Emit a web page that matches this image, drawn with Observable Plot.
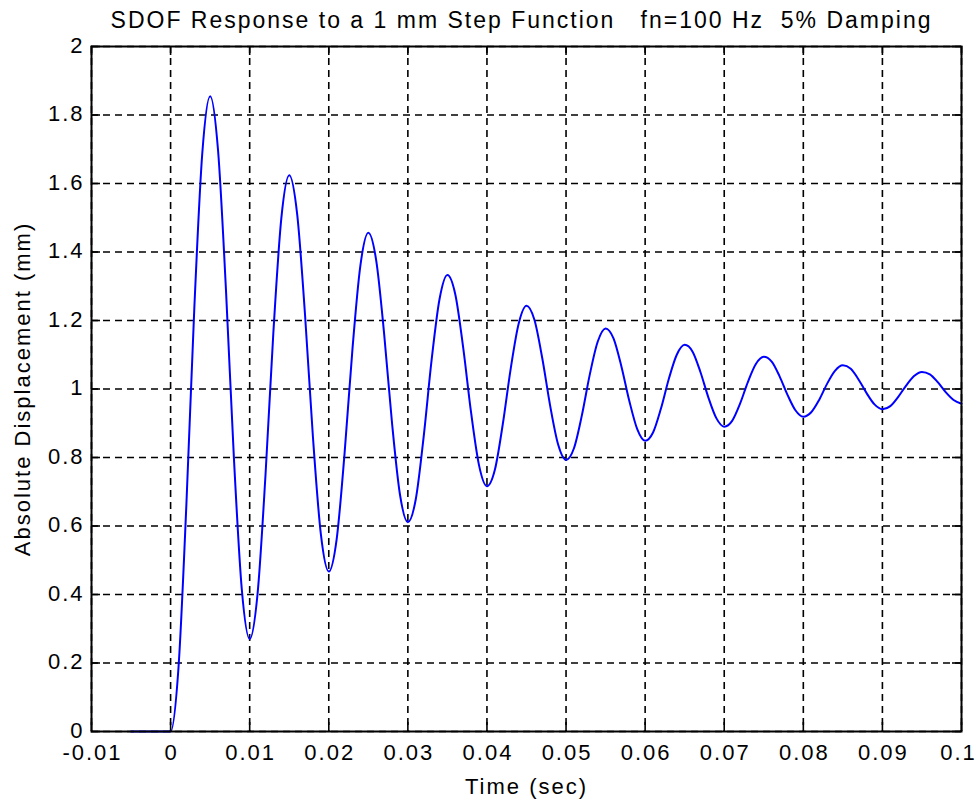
<!DOCTYPE html>
<html><head><meta charset="utf-8">
<script src="https://cdn.jsdelivr.net/npm/d3@7"></script>
<script src="https://cdn.jsdelivr.net/npm/@observablehq/plot@0.6"></script>
<style>
body{margin:0;background:#fff;}
#chart svg text{letter-spacing:2px;white-space:pre;}
</style></head><body><div id="chart"></div>
<script>
const timeSec = [-0.005,
  0, 0.001, 0.002, 0.003, 0.004, 0.005, 0.006, 0.007, 0.008, 0.009,
  0.010, 0.011, 0.012, 0.013, 0.014, 0.015, 0.016, 0.017, 0.018, 0.019,
  0.020, 0.021, 0.022, 0.023, 0.024, 0.025, 0.026, 0.027, 0.028, 0.029,
  0.030, 0.031, 0.032, 0.033, 0.034, 0.035, 0.036, 0.037, 0.038, 0.039,
  0.040, 0.041, 0.042, 0.043, 0.044, 0.045, 0.046, 0.047, 0.048, 0.049,
  0.050, 0.051, 0.052, 0.053, 0.054, 0.055, 0.056, 0.057, 0.058, 0.059,
  0.060, 0.061, 0.062, 0.063, 0.064, 0.065, 0.066, 0.067, 0.068, 0.069,
  0.070, 0.071, 0.072, 0.073, 0.074, 0.075, 0.076, 0.077, 0.078, 0.079,
  0.080, 0.081, 0.082, 0.083, 0.084, 0.085, 0.086, 0.087, 0.088, 0.089,
  0.090, 0.091, 0.092, 0.093, 0.094, 0.095, 0.096, 0.097, 0.098, 0.099,
  0.100];
const dispMm = [0,
  0, 0.187, 0.664, 1.236, 1.686, 1.855, 1.697, 1.290, 0.801, 0.416,
  0.270, 0.403, 0.749, 1.167, 1.498, 1.624, 1.511, 1.216, 0.859, 0.576,
  0.467, 0.562, 0.813, 1.118, 1.361, 1.456, 1.375, 1.161, 0.900, 0.692,
  0.611, 0.678, 0.861, 1.084, 1.262, 1.333, 1.276, 1.120, 0.930, 0.777,
  0.716, 0.764, 0.897, 1.059, 1.190, 1.243, 1.202, 1.089, 0.950, 0.838,
  0.793, 0.827, 0.923, 1.042, 1.138, 1.177, 1.148, 1.066, 0.965, 0.883,
  0.849, 0.873, 0.943, 1.030, 1.100, 1.129, 1.109, 1.049, 0.975, 0.915,
  0.890, 0.907, 0.957, 1.021, 1.073, 1.094, 1.080, 1.037, 0.983, 0.938,
  0.919, 0.932, 0.968, 1.015, 1.053, 1.069, 1.059, 1.027, 0.988, 0.955,
  0.941, 0.950, 0.977, 1.010, 1.038, 1.050, 1.043, 1.020, 0.991, 0.968,
  0.957];
const xTicks = [-0.01, 0, 0.01, 0.02, 0.03, 0.04, 0.05, 0.06, 0.07, 0.08, 0.09, 0.1];
const xTickLabels = ["-0.01", "0", "0.01", "0.02", "0.03", "0.04", "0.05", "0.06", "0.07", "0.08", "0.09", "0.1"];
const yTicks = [0, 0.2, 0.4, 0.6, 0.8, 1, 1.2, 1.4, 1.6, 1.8, 2];
const yTickLabels = ["0", "0.2", "0.4", "0.6", "0.8", "1", "1.2", "1.4", "1.6", "1.8", "2"];
const titleText = "SDOF Response to a 1 mm Step Function   fn=100 Hz  5% Damping";
const xLabel = "Time (sec)";
const yLabel = "Absolute Displacement (mm)";

const data = timeSec.map((t, i) => ({t, d: dispMm[i]}));
const W = 976, H = 803, mL = 91, mR = 15, mT = 46, mB = 72;
const fw = W - mL - mR, fh = H - mT - mB;
const tickLen = 9;
const ink = "#000";
const xLab = d => xTickLabels[xTicks.indexOf(d)];
const lastX = xTicks[xTicks.length - 1];

const plot = Plot.plot({
  width: W, height: H,
  marginLeft: mL, marginRight: mR, marginTop: mT, marginBottom: mB,
  style: {fontFamily: "'Liberation Sans', Arial, Helvetica, sans-serif", fontSize: "22px", color: ink, background: "#fff", overflow: "visible"},
  x: {domain: [-0.01, 0.1], axis: null},
  y: {domain: [0, 2], axis: null},
  marks: [
    Plot.ruleX(xTicks, {x: d => d, stroke: ink, strokeWidth: 1.6, strokeDasharray: "7,5"}),
    Plot.ruleY(yTicks, {y: d => d, stroke: ink, strokeWidth: 1.6, strokeDasharray: "7,5"}),
    Plot.line(data, {x: "t", y: "d", stroke: "#0000ff", strokeWidth: 2, curve: "monotone-x"}),
    Plot.tickX(xTicks, {x: d => d, insetTop: fh - tickLen, stroke: ink, strokeWidth: 1.6}),
    Plot.tickX(xTicks, {x: d => d, insetBottom: fh - tickLen, stroke: ink, strokeWidth: 1.6}),
    Plot.tickY(yTicks, {y: d => d, insetLeft: fw - tickLen, stroke: ink, strokeWidth: 1.6}),
    Plot.tickY(yTicks, {y: d => d, insetRight: fw - tickLen, stroke: ink, strokeWidth: 1.6}),
    Plot.frame({stroke: ink, strokeWidth: 2}),
    Plot.text(xTicks.filter(d => d !== lastX), {x: d => d, text: xLab, frameAnchor: "bottom", dy: 13, dx: 1, lineAnchor: "top", fontSize: 22, fill: ink}),
    Plot.text(xTicks.filter(d => d === lastX), {x: d => d, text: xLab, frameAnchor: "bottom", dy: 13, dx: -3, lineAnchor: "top", fontSize: 22, fill: ink}),
    Plot.text(yTicks, {y: d => d, text: d => yTickLabels[yTicks.indexOf(d)], frameAnchor: "left", dx: -7, dy: -1, textAnchor: "end", lineAnchor: "middle", fontSize: 22, fill: ink}),
    Plot.text([xLabel], {text: d => d, frameAnchor: "bottom", dy: 62, lineAnchor: "bottom", fontSize: 22, fill: ink}),
    Plot.text([yLabel], {text: d => d, frameAnchor: "left", rotate: -90, dx: -62, lineAnchor: "bottom", textAnchor: "middle", fontSize: 22, fill: ink, ariaLabel: "ylabel"}),
    Plot.text([titleText], {text: d => d, frameAnchor: "top", dy: -19, dx: -5, lineAnchor: "bottom", fontSize: 23, fill: ink, ariaLabel: "title"})
  ]
});
const tg = plot.querySelector('g[aria-label="title"]');
if (tg) tg.querySelectorAll("text").forEach(t => t.style.letterSpacing = "1.1px");
const yg = plot.querySelector('g[aria-label="ylabel"]');
if (yg) yg.querySelectorAll("text").forEach(t => t.style.letterSpacing = "2.5px");
document.getElementById("chart").appendChild(plot);
</script></body></html>
